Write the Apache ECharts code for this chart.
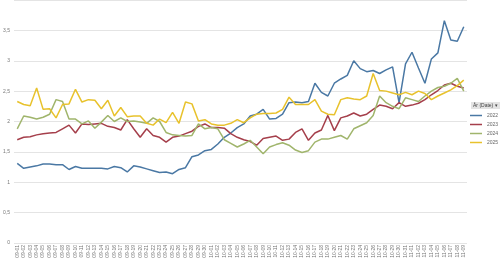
<!DOCTYPE html>
<html><head><meta charset="utf-8">
<script src="https://cdn.jsdelivr.net/npm/echarts@6/dist/echarts.min.js"></script>
<style>html,body{margin:0;padding:0;background:#fff}#c{width:500px;height:262px}</style>
</head><body><div id="c"></div>
<script>
var categories = ['09-01','09-02','09-03','09-04','09-05','09-06','09-07','09-08','09-09','09-10',
'09-11','09-12','09-13','09-14','09-15','09-16','09-17','09-18','09-19','09-20',
'09-21','09-22','09-23','09-24','09-25','09-26','09-27','09-28','09-29','09-30',
'10-01','10-02','10-03','10-04','10-05','10-06','10-07','10-08','10-09','10-10',
'10-11','10-12','10-13','10-14','10-15','10-16','10-17','10-18','10-19','10-20',
'10-21','10-22','10-23','10-24','10-25','10-26','10-27','10-28','10-29','10-30',
'10-31','11-01','11-02','11-03','11-04','11-05','11-06','11-07','11-08','11-09'];
var s2022 = [1.31,1.23,1.25,1.27,1.30,1.30,1.29,1.29,1.21,1.26,1.23,1.23,1.23,1.23,1.22,1.26,1.24,1.17,1.27,1.25,
1.22,1.19,1.16,1.17,1.14,1.21,1.24,1.42,1.45,1.52,1.54,1.63,1.74,1.81,1.90,1.96,2.09,2.12,2.20,2.04,
2.05,2.12,2.31,2.32,2.31,2.33,2.63,2.48,2.42,2.63,2.70,2.76,3.00,2.87,2.82,2.84,2.79,2.85,2.90,2.31,
2.95,3.14,2.88,2.63,3.03,3.13,3.66,3.34,3.32,3.56];
var s2023 = [1.70,1.74,1.75,1.78,1.80,1.81,1.82,1.88,1.94,1.81,1.96,1.95,1.96,1.97,1.92,1.90,1.86,2.03,1.88,1.74,
1.88,1.77,1.74,1.66,1.74,1.76,1.80,1.84,1.92,1.96,1.90,1.90,1.89,1.80,1.74,1.70,1.67,1.61,1.72,1.74,
1.76,1.69,1.71,1.82,1.88,1.69,1.81,1.86,2.10,1.85,2.06,2.09,2.14,2.09,2.12,2.20,2.27,2.25,2.21,2.31,
2.25,2.27,2.30,2.36,2.44,2.51,2.60,2.63,2.58,2.55];
var s2024 = [1.88,2.09,2.07,2.04,2.07,2.12,2.36,2.33,2.04,2.04,1.96,2.01,1.89,1.99,2.10,2.00,2.06,2.00,2.01,1.99,
1.97,2.06,2.00,1.82,1.78,1.77,1.76,1.77,1.96,1.88,1.90,1.88,1.70,1.64,1.58,1.63,1.69,1.58,1.47,1.58,
1.62,1.65,1.61,1.53,1.49,1.52,1.66,1.71,1.71,1.74,1.77,1.71,1.88,1.93,1.98,2.10,2.42,2.31,2.25,2.21,
2.39,2.36,2.33,2.42,2.50,2.56,2.58,2.63,2.71,2.50];
var s2025 = [2.33,2.28,2.26,2.55,2.20,2.21,2.06,2.28,2.29,2.53,2.32,2.36,2.35,2.21,2.35,2.09,2.23,2.08,2.09,2.09,
1.97,1.94,2.04,1.98,2.15,1.97,2.32,2.29,2.01,2.03,1.96,1.94,1.94,1.97,2.03,1.98,2.06,2.12,2.13,2.13,
2.14,2.20,2.40,2.28,2.28,2.28,2.36,2.17,2.12,2.11,2.36,2.39,2.37,2.36,2.42,2.79,2.51,2.50,2.47,2.44,
2.48,2.44,2.50,2.46,2.36,2.42,2.47,2.52,2.59,2.68];
var seriesNames = ['2022','2023','2024','2025'];
var legendTitle = 'År (Date) \u25BE';

var colors = ['#4a78a4','#a53f4b','#a0b56c','#e8c22c'];
var data = [s2022, s2023, s2024, s2025];
var chart = echarts.init(document.getElementById('c'), null, {renderer:'canvas'});
chart.setOption({
  animation: false,
  color: colors,
  grid: {left: 14, right: 33, top: -5, bottom: 19, containLabel: false},
  xAxis: {
    type: 'category', data: categories, boundaryGap: true,
    axisLine: {show: false}, axisTick: {show: false},
    axisLabel: {interval: 0, rotate: 90, fontSize: 5, color: '#777', margin: 2, fontFamily: 'Liberation Sans'}
  },
  yAxis: {
    type: 'value', min: 0, max: 4, interval: 0.5,
    axisLine: {show: false}, axisTick: {show: false},
    splitLine: {lineStyle: {color: '#e4e4e4', width: 1}},
    axisLabel: {fontSize: 5, color: '#777', margin: 4, fontFamily: 'Liberation Sans',
      formatter: function (v) { return v >= 4 ? '' : String(v).replace('.', ','); }}
  },
  legend: {
    orient: 'vertical', left: 470, top: 113, icon: 'rect', itemWidth: 12, itemHeight: 1.5,
    itemGap: 4, padding: 0,
    textStyle: {fontSize: 5, color: '#666', fontFamily: 'Liberation Sans'}, data: seriesNames
  },
  graphic: [
    {type: 'rect', left: 471, top: 102, shape: {width: 29, height: 7}, style: {fill: '#e3e3e3'}},
    {type: 'text', left: 473, top: 103, style: {text: legendTitle, fontSize: 5, fill: '#444', fontFamily: 'Liberation Sans'}}
  ],
  series: data.map(function (d, i) {
    return {name: seriesNames[i], type: 'line', data: d, symbol: 'none',
      lineStyle: {width: 1.5, color: colors[i]}, z: 2 + i};
  })
});
</script></body></html>
